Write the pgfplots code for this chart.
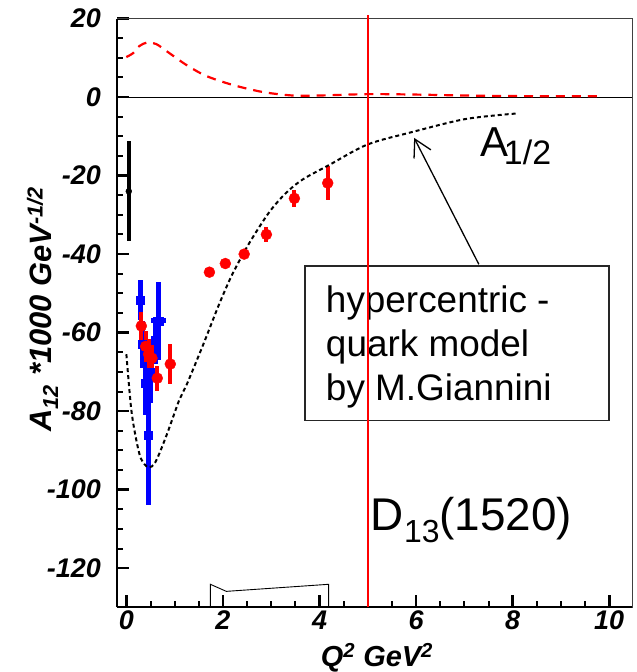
\documentclass[border=0pt]{standalone}
\usepackage{fontspec}
\setmainfont{Liberation Sans}
\usepackage{pgfplots}
\pgfplotsset{compat=1.18}
\usetikzlibrary{arrows.meta}

\begin{document}
\begin{tikzpicture}
\begin{axis}[
  scale only axis, width=516.7pt, height=590.4pt,
  xmin=-0.194, xmax=10.48, ymin=-130, ymax=20,
  xtick={0,2,...,10}, ytick={-120,-100,...,20},
  minor x tick num=3, minor y tick num=3,
  tick align=inside, xtick pos=bottom, ytick pos=left,
  clip=false,
  axis line style={line width=0.8pt, black!75},
  major tick length=12pt, minor tick length=6.5pt,
  major tick style={line width=2.6pt, black},
  minor tick style={line width=2pt, black},
  /pgf/number format/assume math mode=true,
  ticklabel style={font=\fontsize{27}{27}\selectfont\bfseries\itshape},
  xticklabel style={inner sep=0pt, yshift=-3pt},
  yticklabel style={inner sep=0pt, xshift=-16pt},
]
% frame emphasis
\draw[line width=2pt, black] (axis cs:-0.194,-130) -- (axis cs:-0.194,20);
\draw[line width=2pt, black] (axis cs:-0.194,-130) -- (axis cs:10.48,-130);
% zero line
\draw[line width=0.9pt, black] (axis cs:-0.194,0) -- (axis cs:10.48,0);

% systematic band at the bottom
\addplot[black, line width=0.9pt] coordinates {(1.74,-130) (1.74,-124.1) (2.07,-125.9) (4.19,-124.1) (4.19,-130)};

% blue data
\addplot[only marks, blue, mark=square*, mark size=4pt, mark options={fill=blue, draw=blue},
  error bars/.cd, y dir=both, y explicit, x dir=both, x explicit,
  error bar style={line width=5pt, blue}, error mark=none]
  table[x=x, y=y, x error=ex, y error=ey] {
x y ex ey
0.29 -51.7 0 5
0.33 -63.0 0 6
0.40 -73.0 0 8
0.45 -86.0 0 18
0.50 -70.0 0 8
0.60 -62.0 0 6
0.67 -57.0 0.15 10
};

% black point at Q2=0
\addplot[only marks, black, mark=*, mark size=3pt,
  error bars/.cd, y dir=both, y explicit,
  error bar style={line width=3.5pt, black}, error mark=none]
  table[x=x, y=y, y error=ey] {
x y ey
0.05 -24.0 12.7
};

% red data
\addplot[only marks, red, mark=*, mark size=5.5pt, mark options={fill=red, draw=red},
  error bars/.cd, y dir=both, y explicit,
  error bar style={line width=4pt, red}, error mark=none]
  table[x=x, y=y, y error=ey] {
x y ey
0.31 -58.3 3.5
0.40 -63.5 4.0
0.46 -65.5 4.0
0.53 -66.5 4.5
0.64 -71.6 3.2
0.91 -68.0 5.0
1.72 -44.6 0.8
2.05 -42.4 0.8
2.44 -40.0 0.8
2.90 -35.0 1.8
3.48 -25.8 2.2
4.17 -21.9 4.3
};

% A3/2 model curve (red dashed)
\addplot[red, line width=2.2pt, dash pattern=on 9pt off 7pt, smooth] coordinates {
(0,10.2) (0.14,11.2) (0.27,13.0) (0.43,13.9) (0.62,13.5) (0.89,11.2) (1.24,8.2)
(1.65,5.4) (2.2,3.1) (2.82,1.3) (3.44,0.4) (4.0,0.4) (5.0,0.75) (5.92,0.65)
(7.03,0.4) (8.06,0.25) (9.78,0.2)};

% A1/2 model curve (black dotted)
\addplot[black, line width=2pt, dash pattern=on 4pt off 3pt, smooth] coordinates {
(0,-65.5) (0.1,-79.4) (0.2,-87) (0.3,-92) (0.45,-94.3) (0.6,-93) (0.83,-86.2)
(1.1,-77) (1.24,-73.5) (1.58,-63.4) (1.93,-52.5) (2.2,-45) (2.55,-37.1)
(2.96,-29.3) (3.3,-24.5) (3.65,-21.0) (4.2,-17.3) (4.99,-12.1) (5.92,-8.9)
(7.02,-5.6) (8.06,-4.2)};

% annotation box
\draw[line width=1.8pt, black!85] (axis cs:3.70,-43.0) rectangle (axis cs:10.0,-82.4);
\node[anchor=base west, inner sep=0pt, font=\fontsize{37}{44}\selectfont] at (axis cs:4.13,-54.9) {hypercentric -};
\node[anchor=base west, inner sep=0pt, font=\fontsize{37}{44}\selectfont] at (axis cs:4.13,-66.1) {quark model};
\node[anchor=base west, inner sep=0pt, font=\fontsize{37}{44}\selectfont] at (axis cs:4.13,-77.3) {by M.Giannini};

% arrow and A1/2 label
\draw[line width=1.3pt, -{Straight Barb[length=17pt,width=19pt,line width=1.3pt]}] (axis cs:7.3,-42.6) -- (axis cs:5.96,-10.4);
\node[anchor=base west, inner sep=0pt, font=\fontsize{42}{42}\selectfont] at (axis cs:7.32,-15.1) {A\kern-4pt\raisebox{-8pt}{\fontsize{34}{34}\selectfont 1/2}};

% resonance label
\node[anchor=base west, inner sep=0pt, font=\fontsize{46}{46}\selectfont] at (axis cs:5.06,-110.4) {D\raisebox{-12pt}{\fontsize{32}{32}\selectfont 13}(1520)};

% red vertical line
\draw[red, line width=1.8pt] (axis cs:5,-130) -- (axis cs:5,20.8);

% axis labels
\node[rotate=90, anchor=base, inner sep=0pt, font=\fontsize{31}{31}\selectfont\bfseries\itshape] at (axis cs:-1.55,-54) {A\textsubscript{12} *1000 GeV\textsuperscript{-1/2}};
\node[anchor=base, inner sep=0pt, font=\fontsize{29}{29}\selectfont\bfseries\itshape] at (axis cs:5.19,-145) {Q\textsuperscript{2} GeV\textsuperscript{2}};

% bounding box to match reference margins
\path (axis cs:-0.194,-130) ++(-117.3pt,-63pt);
\path (axis cs:10.48,20) ++(4pt,18.6pt);
\end{axis}
\end{tikzpicture}
\end{document}
